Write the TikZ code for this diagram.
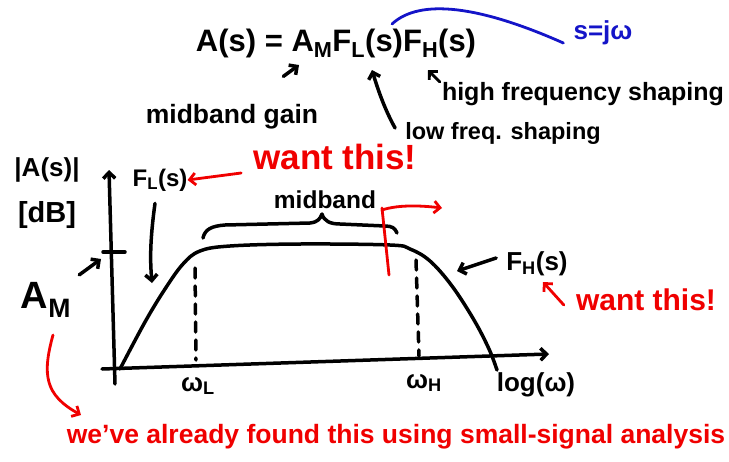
\documentclass[tikz,border=0pt]{standalone}
\usepackage{fontspec}
\setmainfont{Liberation Sans}
\usetikzlibrary{arrows.meta}
\definecolor{hred}{RGB}{240,0,0}
\definecolor{hblue}{RGB}{20,20,200}
\newcommand{\fsz}[1]{\fontsize{#1}{#1}\selectfont\bfseries}
\begin{document}
\begin{tikzpicture}[x=1pt,y=-1pt,
  ink/.style={line width=3.5pt,line cap=round,line join=round},
  thin ink/.style={line width=2.8pt,line cap=round,line join=round},
  arr/.style={-{Straight Barb[length=6pt,width=12pt,line width=3.5pt]}},
  sarr/.style={-{Straight Barb[length=6pt,width=12pt,line width=2.8pt]}},
  txt/.style={inner sep=0pt,anchor=center},
  dashline/.style={ink,dash pattern=on 10pt off 8pt}]
\path[use as bounding box] (0,0) rectangle (729,461);
\fill[white] (0,0) rectangle (729,461);

% formula and labels
\node[txt,font=\fsz{31}] (eq) at (336,43) {A(s) = A\textsubscript{M}F\textsubscript{L}(s)F\textsubscript{H}(s)};
\node[txt,font=\fsz{26},text=hblue] (sjw) at (603,33) {s=jω};
\node[txt,font=\fsz{26.5}] (mg) at (232,117) {midband gain};
\node[txt,font=\fsz{25}] (hfs) at (583,94) {high frequency shaping};
\node[txt,font=\fsz{23.5}] (lfs) at (503,133) {low freq. shaping};
\coordinate (bl) at (392,24);
\coordinate (am) at (299,65);
\coordinate (fl) at (372,70);
\coordinate (fh) at (428,70);
\draw[thin ink,hblue] (bl) .. controls (420,-2) and (480,6) .. ([xshift=-10pt,yshift=-10pt]sjw.west);
\draw[ink,arr] (mg.north east) ++(-35,-28) coordinate (mgt) (mgt) -- (am);
\draw[ink,arr] (lfs.west) ++(-10,-5) coordinate (lft) (lft) .. controls (385,110) and (378,90) .. (fl);
\draw[thin ink,sarr] (hfs.west) ++(-2,-12) coordinate (hft) (hft) -- (fh);

% axes
\coordinate (yb) at (115,384);
\coordinate (yt) at (109,170);
\coordinate (xl) at (102,369);
\coordinate (xr) at (549,354);
\draw[ink,arr] (yb) -- (yt);
\draw[ink,arr] (xl) -- (xr);
\draw[ink] (103,252) -- (125,252);

% response curve
\draw[ink] plot[smooth,tension=0.6] coordinates {(120,369) (145,322) (165,289) (183,264) (200,251) (230,246) (300,244) (390,245) (410,249) (430,261) (452,286) (474,320) (489,349) (497,370)};
\draw[dashline] (195,268) -- (196,360);
\draw[dashline] (416,260) -- (419,356);

% brace
\draw[ink] (203,238) .. controls (205,229) and (212,226) .. (225,225) -- (310,223) .. controls (318,222) and (320,219) .. (322,214) .. controls (324,221) and (330,224) .. (340,224) -- (385,226) .. controls (392,226) and (395,228) .. (397,233);
\node[txt,font=\fsz{24.5}] (mb) at (325,200) {midband};

% axis labels
\node[txt,font=\fsz{26}] (amag) at (47,170) {|A(s)|};
\node[txt,font=\fsz{29}] (db) at (47,215) {[dB]};
\node[txt,font=\fsz{38}] (AM) at (46,300) {A\textsubscript{M}};
\node[txt,font=\fsz{26}] (wl) at (198,386) {ω\textsubscript{L}};
\node[txt,font=\fsz{26}] (wh) at (424,383) {ω\textsubscript{H}};
\node[txt,font=\fsz{26}] (logw) at (536,385) {log(ω)};
\draw[ink,arr] (AM.north east) ++(8,-7) coordinate (amt) (amt) -- (101,259);

% F_L, F_H
\node[txt,font=\fsz{24}] (FL) at (160,180) {F\textsubscript{L}(s)};
\node[txt,font=\fsz{26}] (FH) at (537,264) {F\textsubscript{H}(s)};
\draw[ink,arr] (FL.south) ++(-5,12) coordinate (flt) (flt) .. controls (150,240) and (150,260) .. (152,283);
\draw[ink,arr] (FH.west) ++(-10,-6) coordinate (fht) (fht) -- (457,271);

% red annotations
\node[txt,font=\fsz{35},text=hred] (want1) at (335,157) {want this!};
\node[txt,font=\fsz{30},text=hred] (want2) at (646,300) {want this!};
\node[txt,font=\fsz{26.5},text=hred] (found) at (396,437) {we've already found this using small-signal analysis};
\coordinate (rs) at (53,335);
\coordinate (re) at (81,415);
\draw[thin ink,hred,sarr] (want1.west) ++(-12,16) coordinate (w1t) (w1t) -- (FL.east);
\draw[thin ink,hred,sarr] (want2.west) ++(-12,5) coordinate (w2t) (w2t) -- (543,282);
\draw[thin ink,hred] (382,208) -- (389,275);
\draw[thin ink,hred,sarr] (382,210) .. controls (400,204) and (425,206) .. (442,208);
\draw[thin ink,hred,sarr] (rs) .. controls (42,375) and (45,395) .. (re);
\end{tikzpicture}
\end{document}
